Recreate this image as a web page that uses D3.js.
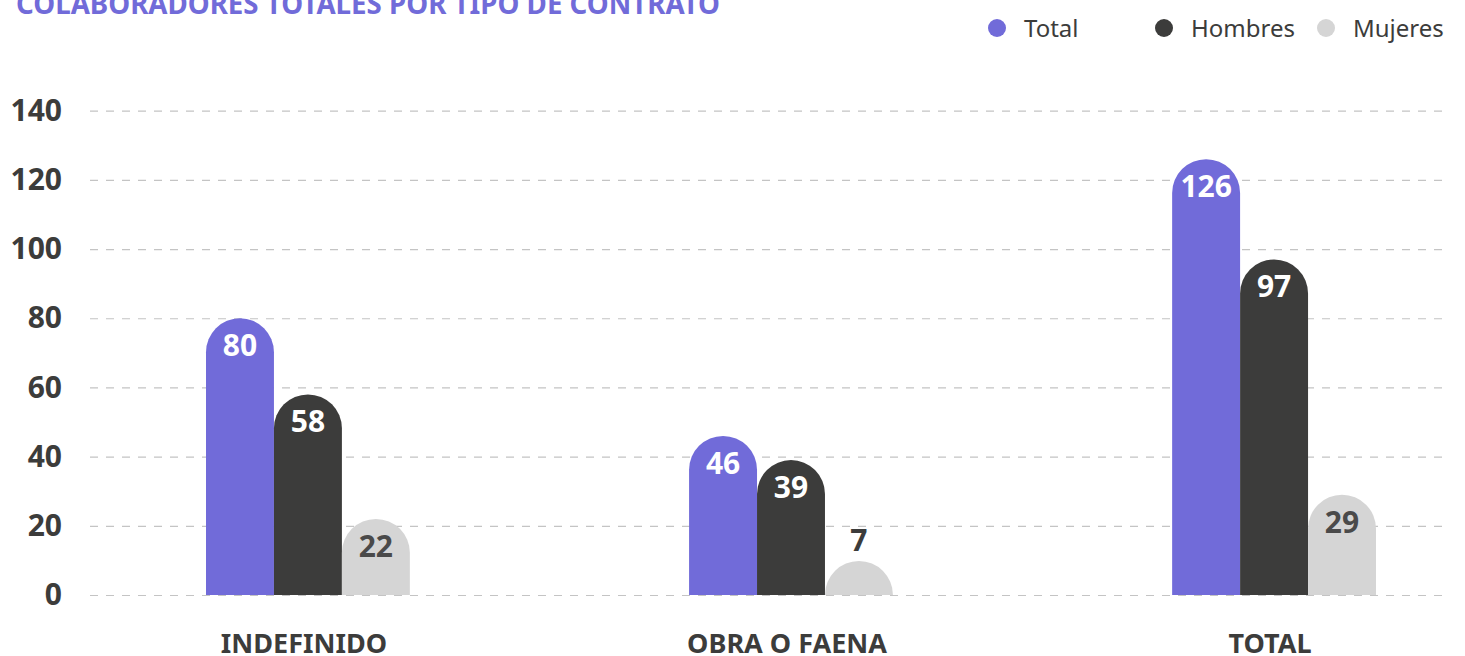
<!DOCTYPE html>
<html>
<head>
<meta charset="utf-8">
<script src="https://cdn.jsdelivr.net/npm/d3@7"></script>
<style>
  body { margin: 0; background: #fff; }
  svg { display: block; font-family: "Noto Sans", sans-serif; }
</style>
</head>
<body>
<div id="chart"></div>
<script>
// data
const categories = ["INDEFINIDO", "OBRA O FAENA", "TOTAL"];
const seriesNames = ["Total", "Hombres", "Mujeres"];
const totalValues = [80, 46, 126];
const hombresValues = [58, 39, 97];
const mujeresValues = [22, 7, 29];
const yTicks = [0, 20, 40, 60, 80, 100, 120, 140];
const chartTitle = "COLABORADORES TOTALES POR TIPO DE CONTRATO";

const colors = { Total: "#716bd9", Hombres: "#3c3c3b", Mujeres: "#d5d5d5" };
const labelColors = { Total: "#ffffff", Hombres: "#ffffff", Mujeres: "#4a4a4a" };

const W = 1465, H = 656;
const gridLeft = 90, gridRight = 1446;

const svg = d3.select("#chart").append("svg")
    .attr("width", W)
    .attr("height", H);

// title (partly cut at the top, like the original)
svg.append("text")
    .attr("x", 16)
    .attr("y", 14)
    .attr("textLength", 704)
    .attr("lengthAdjust", "spacingAndGlyphs")
    .style("font-size", "28px")
    .style("font-weight", 700)
    .style("fill", "#716bd9")
    .text(chartTitle);

// legend
const legendX = [997, 1164, 1326];
const legend = svg.append("g");
seriesNames.forEach((s, i) => {
    legend.append("circle")
        .attr("cx", legendX[i])
        .attr("cy", 28)
        .attr("r", 9)
        .attr("fill", colors[s]);
    legend.append("text")
        .attr("x", legendX[i] + 27)
        .attr("y", 37)
        .style("font-size", "24px")
        .style("fill", "#3c3c3b")
        .text(s);
});

const y = d3.scaleLinear()
    .domain([0, 140])
    .range([595, 110.7]);

const yAxis = svg.append("g")
    .attr("transform", `translate(${gridLeft},0)`)
    .call(d3.axisLeft(y).tickValues(yTicks).tickSize(-(gridRight - gridLeft)).tickPadding(28));

yAxis.select(".domain").remove();
yAxis.selectAll(".tick line")
    .attr("stroke", "#c4c4c4")
    .attr("stroke-width", 1.2)
    .attr("stroke-dasharray", "8,8");
yAxis.selectAll(".tick text")
    .attr("fill", "#3c3c3b")
    .style("font-size", "30px")
    .style("font-weight", 700)
    .style("font-family", "'Noto Sans', sans-serif");

const x0 = d3.scaleBand()
    .domain(categories)
    .range([206, 1376])
    .paddingInner(0.578)
    .paddingOuter(0);

const x1 = d3.scaleBand()
    .domain(seriesNames)
    .range([0, x0.bandwidth()])
    .padding(0);

const rows = [];
categories.forEach((c, i) => {
    rows.push({ cat: c, series: "Total", value: totalValues[i] });
    rows.push({ cat: c, series: "Hombres", value: hombresValues[i] });
    rows.push({ cat: c, series: "Mujeres", value: mujeresValues[i] });
});

function barPath(d) {
    const bx = x0(d.cat) + x1(d.series);
    const w = x1.bandwidth();
    const r = w / 2;
    const base = y(0);
    const h = Math.max(base - y(d.value), r);
    const top = base - h;
    return `M${bx},${base}V${top + r}A${r},${r} 0 0 1 ${bx + w},${top + r}V${base}Z`;
}

svg.append("g")
    .selectAll("path")
    .data(rows)
    .enter()
    .append("path")
    .attr("d", barPath)
    .attr("fill", d => colors[d.series]);

// value labels
svg.append("g")
    .selectAll("text")
    .data(rows)
    .enter()
    .append("text")
    .attr("x", d => x0(d.cat) + x1(d.series) + x1.bandwidth() / 2)
    .attr("y", d => {
        const h = y(0) - y(d.value);
        const r = x1.bandwidth() / 2;
        if (h < 50) return y(0) - Math.max(h, r) - 10;
        return y(d.value) + 38;
    })
    .attr("text-anchor", "middle")
    .style("font-size", "30px")
    .style("font-weight", 700)
    .style("fill", d => (y(0) - y(d.value) < 50) ? "#3c3c3b" : labelColors[d.series])
    .text(d => d.value);

// category labels
svg.append("g")
    .selectAll("text")
    .data(categories)
    .enter()
    .append("text")
    .attr("x", d => x0(d) + x0.bandwidth() / 2 - 4)
    .attr("y", 653)
    .attr("text-anchor", "middle")
    .style("font-size", "27px")
    .style("font-weight", 700)
    .style("fill", "#3c3c3b")
    .text(d => d);
</script>
</body>
</html>
